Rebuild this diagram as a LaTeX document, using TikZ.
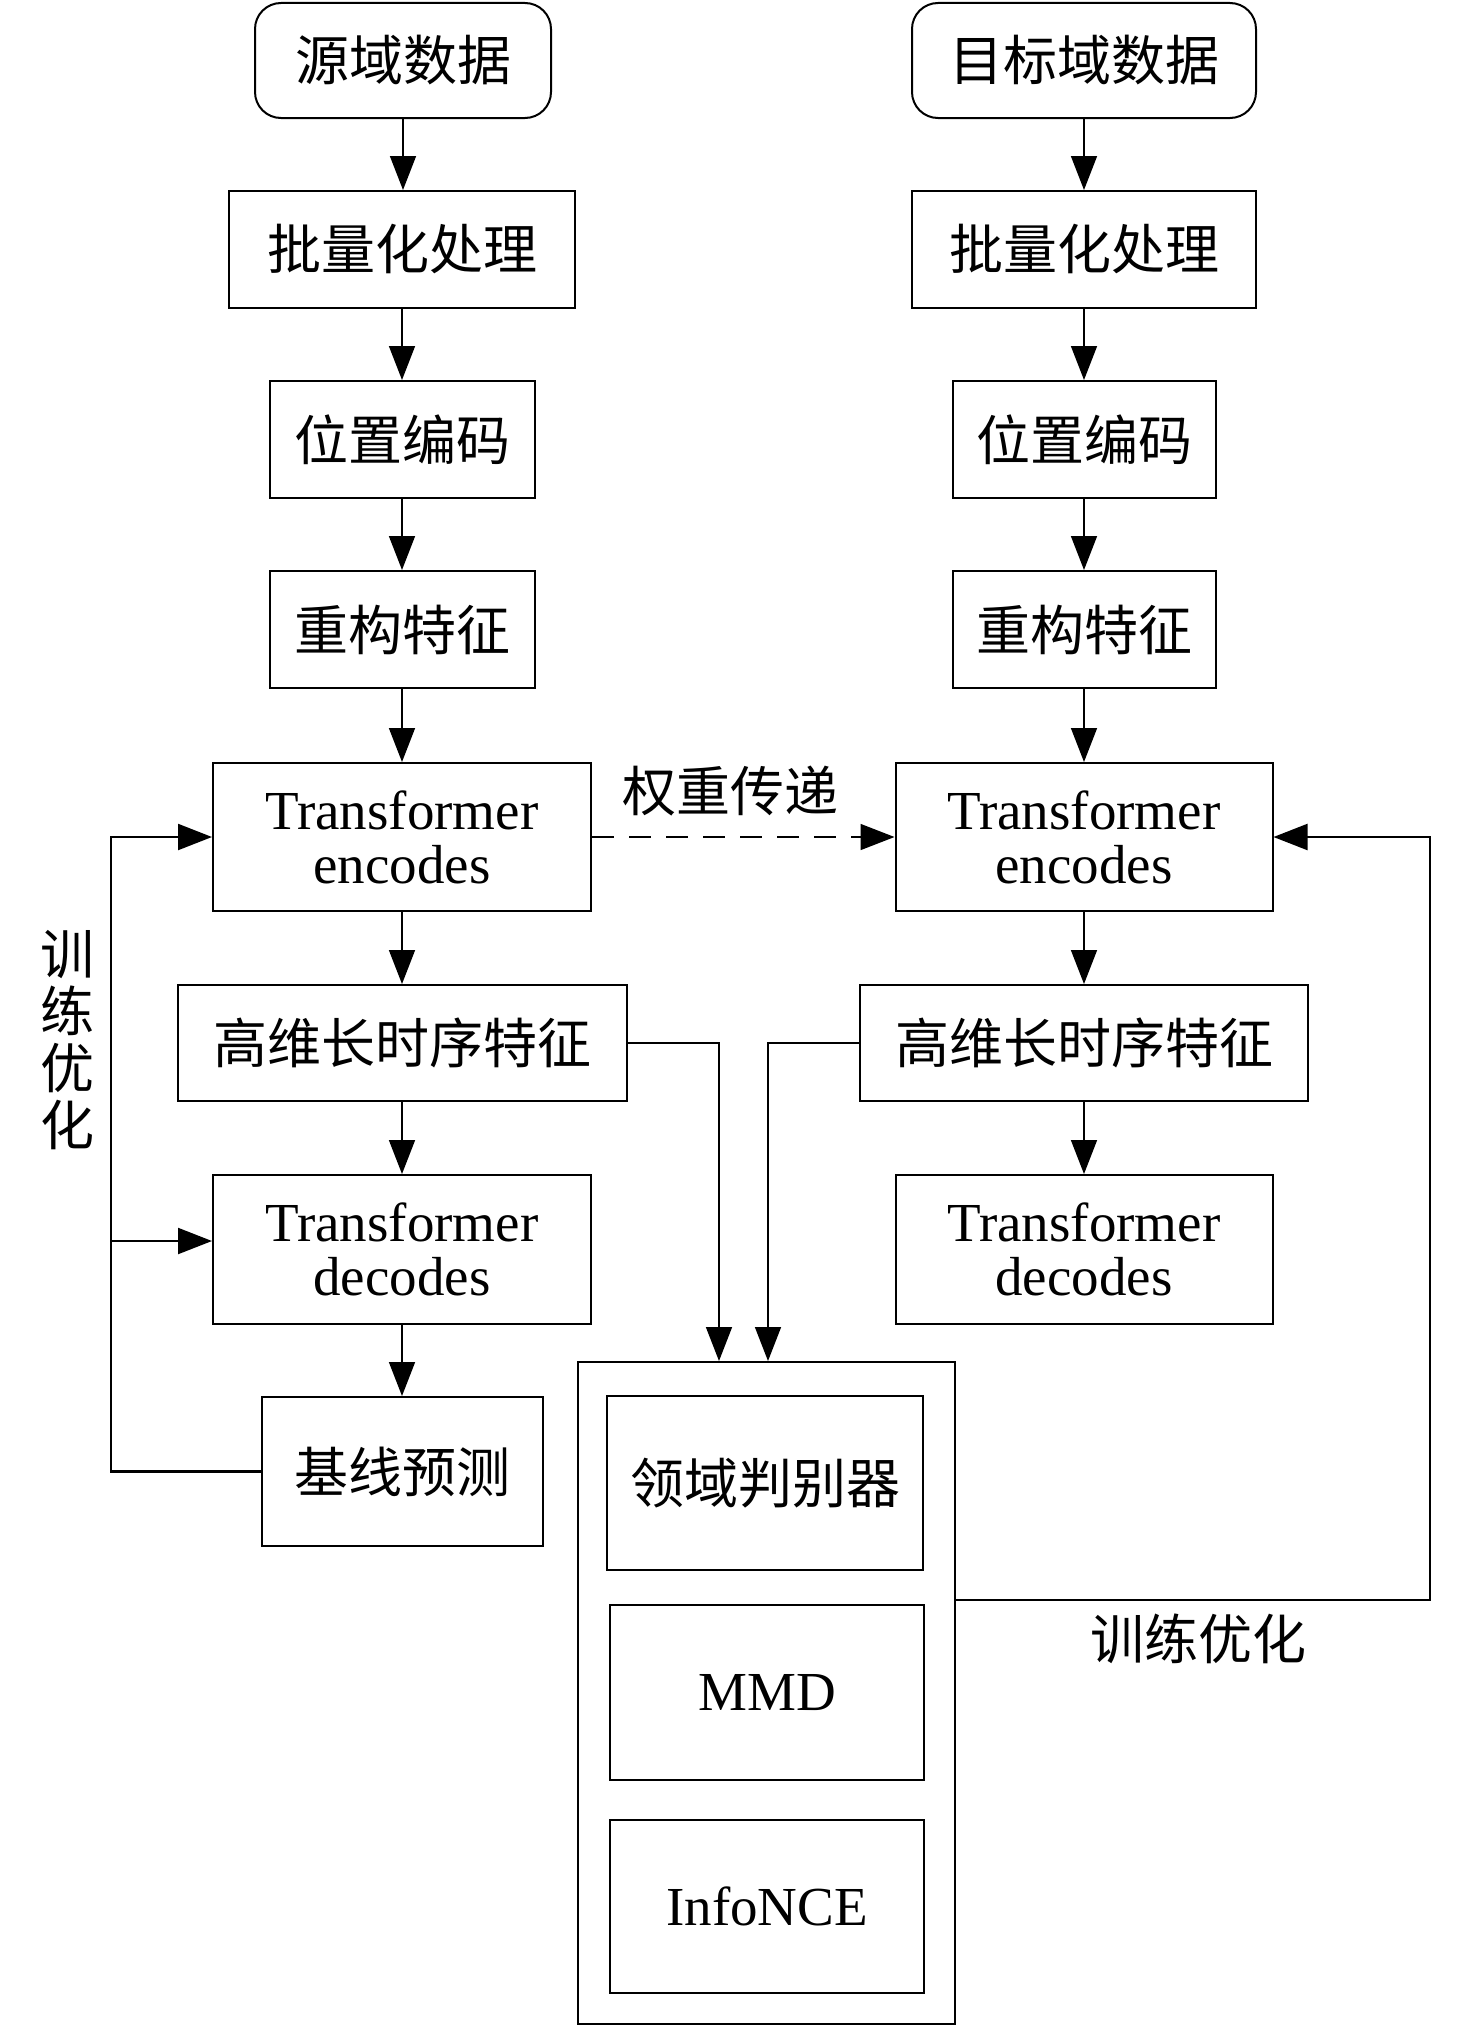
\documentclass[tikz,border=0pt]{standalone}
\usepackage{fontspec}
\setmainfont{Liberation Serif}
\newfontfamily\cjk{Noto Sans CJK SC}
\usetikzlibrary{arrows.meta}
\tikzset{
  box/.style={draw, line width=2pt, rectangle, inner sep=0pt, align=center},
  cn/.style={font=\cjk\fontsize{54}{60}\selectfont},
  en/.style={font=\fontsize{55}{54}\selectfont},
  arr/.style={line width=1.6pt, -{Triangle[length=34pt,width=26pt]}},
  fb/.style={line width=2.2pt, -{Triangle[length=34pt,width=26pt]}},
}
\begin{document}
\begin{tikzpicture}[x=1pt,y=-1pt]
\useasboundingbox (0,0) rectangle (1476,2026);
% left column
\node[box,cn,rounded corners=26pt,minimum width=296pt,minimum height=115pt] (src) at (403,60.5) {源域数据};
\node[box,cn,minimum width=346pt,minimum height=117pt] (batchL) at (402,249.5) {批量化处理};
\node[box,cn,minimum width=265pt,minimum height=117pt] (posL) at (402,439.5) {位置编码};
\node[box,cn,minimum width=265pt,minimum height=117pt] (recL) at (402,629.5) {重构特征};
\node[box,en,minimum width=378pt,minimum height=148pt] (encL) at (402,837) {Transformer\\encodes};
\node[box,cn,minimum width=449pt,minimum height=116pt] (highL) at (402,1043) {高维长时序特征};
\node[box,en,minimum width=378pt,minimum height=149pt] (decL) at (402,1249.5) {Transformer\\decodes};
\node[box,cn,minimum width=281pt,minimum height=149pt] (base) at (402,1471.5) {基线预测};
% right column
\node[box,cn,rounded corners=26pt,minimum width=344pt,minimum height=115pt] (tgt) at (1084,60.5) {目标域数据};
\node[box,cn,minimum width=344pt,minimum height=117pt] (batchR) at (1084,249.5) {批量化处理};
\node[box,cn,minimum width=263pt,minimum height=117pt] (posR) at (1084,439.5) {位置编码};
\node[box,cn,minimum width=263pt,minimum height=117pt] (recR) at (1084,629.5) {重构特征};
\node[box,en,minimum width=377pt,minimum height=148pt] (encR) at (1084,837) {Transformer\\encodes};
\node[box,cn,minimum width=448pt,minimum height=116pt] (highR) at (1084,1043) {高维长时序特征};
\node[box,en,minimum width=377pt,minimum height=149pt] (decR) at (1084,1249.5) {Transformer\\decodes};
% loss block
\node[box,minimum width=377pt,minimum height=662pt] (big) at (766.5,1693) {};
\node[box,cn,minimum width=316pt,minimum height=174pt] (disc) at (765,1483) {领域判别器};
\node[box,en,minimum width=314pt,minimum height=175pt] (mmd) at (767,1692.5) {MMD};
\node[box,en,minimum width=314pt,minimum height=173pt] (info) at (767,1906.5) {InfoNCE};
% labels
\node[cn] (lblw) at (730,791) {权重传递};
\node[cn] (lblr) at (1198,1639) {训练优化};
\node[cn,align=center,font=\cjk\fontsize{54}{57}\selectfont] (lbll) at (67,1040) {训\\练\\优\\化};
% vertical arrows
\foreach \a/\b in {src/batchL,batchL/posL,posL/recL,recL/encL,encL/highL,highL/decL,decL/base,
                   tgt/batchR,batchR/posR,posR/recR,recR/encR,encR/highR,highR/decR}
  \draw[arr] (\a.south) -- (\a.south |- \b.north);
% weight transfer
\draw[arr,dashed,dash pattern=on 22pt off 15pt] (encL.east) -- (encR.west);
% features to loss block
\coordinate (mA) at (719,1362);
\coordinate (mB) at (768,1362);
\draw[arr] (highL.east) -| (mA |- big.north);
\draw[arr] (highR.west) -| (mB |- big.north);
% left feedback
\coordinate (fbL) at (111,1471.5);
\coordinate (fbLt) at (111,837);
\coordinate (fbLd) at (111,1241);
\draw[fb] (base.west) -- (fbL) -- (fbLt) -- (encL.west);
\draw[fb] (fbLd) -- (fbLd -| decL.west);
% right feedback
\coordinate (fbR) at (1430,1600);
\draw[fb] (big.east |- fbR) -- (fbR) |- (encR.east);
\end{tikzpicture}
\end{document}
